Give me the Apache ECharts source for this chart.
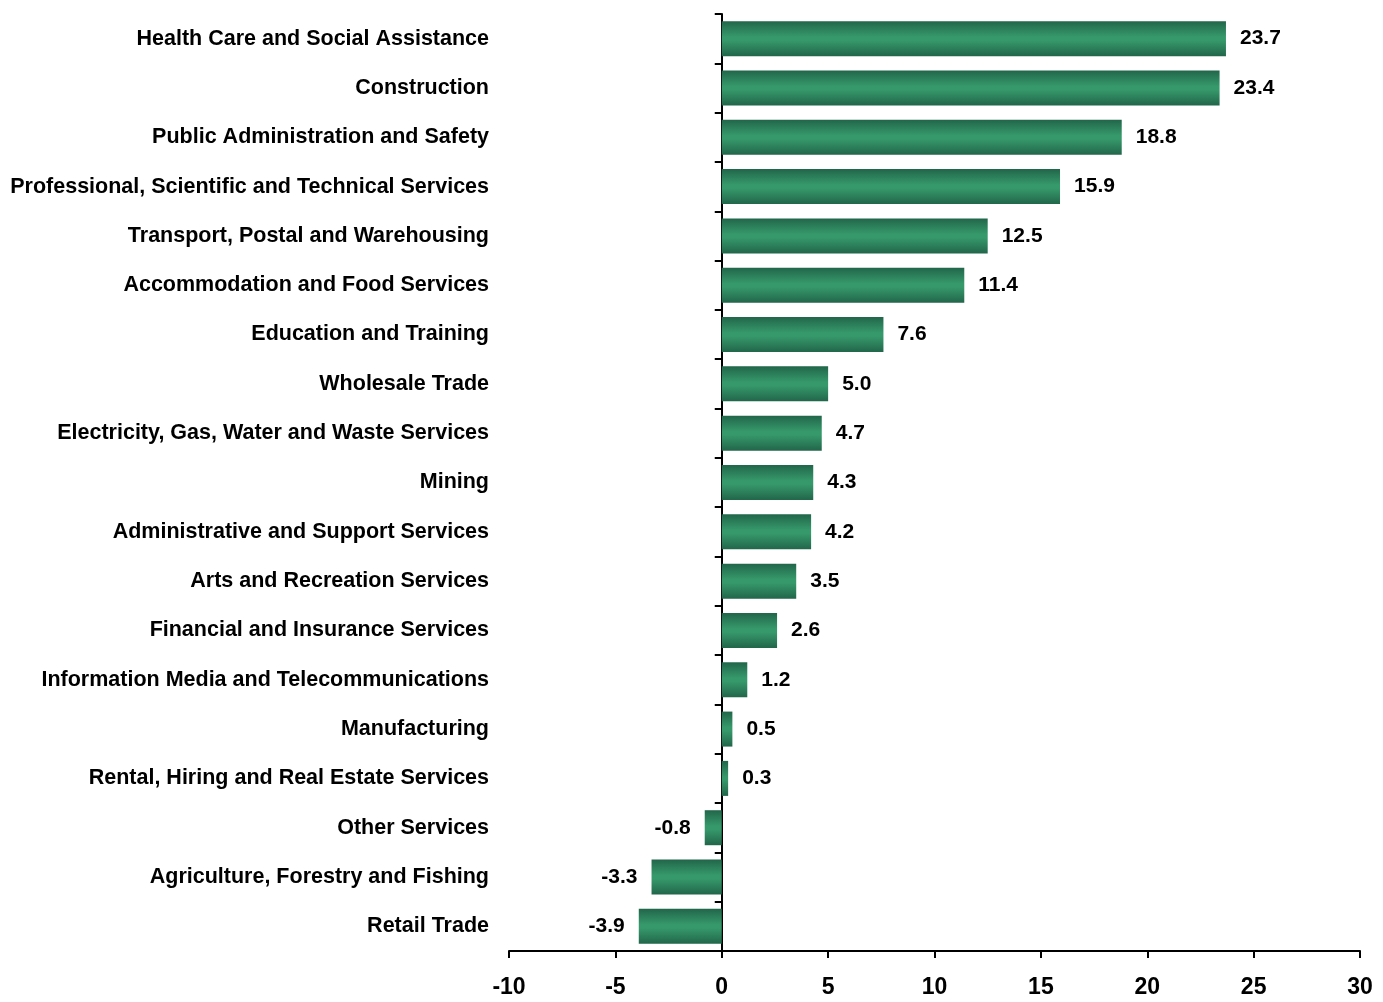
<!DOCTYPE html>
<html>
<head>
<meta charset="utf-8">
<title>Employment change by industry</title>
<script src="https://cdn.jsdelivr.net/npm/echarts@6/dist/echarts.min.js"></script>
<style>
  html, body { margin: 0; padding: 0; background: #ffffff; }
  #chart { width: 1383px; height: 1002px; }
</style>
</head>
<body>
<div id="chart"></div>
<script>
// Industries, listed top to bottom
const industries = [
  'Health Care and Social Assistance',
  'Construction',
  'Public Administration and Safety',
  'Professional, Scientific and Technical Services',
  'Transport, Postal and Warehousing',
  'Accommodation and Food Services',
  'Education and Training',
  'Wholesale Trade',
  'Electricity, Gas, Water and Waste Services',
  'Mining',
  'Administrative and Support Services',
  'Arts and Recreation Services',
  'Financial and Insurance Services',
  'Information Media and Telecommunications',
  'Manufacturing',
  'Rental, Hiring and Real Estate Services',
  'Other Services',
  'Agriculture, Forestry and Fishing',
  'Retail Trade'
];

// Change for each industry
const changes = [23.7, 23.4, 18.8, 15.9, 12.5, 11.4, 7.6, 5.0, 4.7, 4.3, 4.2, 3.5, 2.6, 1.2, 0.5, 0.3, -0.8, -3.3, -3.9];

// Value axis range and tick step
const axisMin = -10;
const axisMax = 30;
const axisStep = 5;

const FONT = '"Liberation Sans", Arial, Helvetica, sans-serif';

const barFill = new echarts.graphic.LinearGradient(0, 0, 0, 1, [
  { offset: 0, color: '#21664a' },
  { offset: 0.45, color: '#36996b' },
  { offset: 0.55, color: '#36996b' },
  { offset: 1, color: '#21664a' }
]);

const seriesData = changes.map(v => ({
  value: v,
  label: { position: v < 0 ? 'left' : 'right' }
}));

const chart = echarts.init(document.getElementById('chart'), null, { renderer: 'canvas' });

chart.setOption({
  animation: false,
  backgroundColor: '#ffffff',
  grid: {
    left: 509, right: 23, top: 14, bottom: 51,
    containLabel: false,
    outerBoundsMode: 'none'
  },
  xAxis: {
    type: 'value',
    min: axisMin,
    max: axisMax,
    interval: axisStep,
    splitLine: { show: false },
    axisLine: { show: true, lineStyle: { color: '#000', width: 2 } },
    axisTick: { show: true, length: 7, lineStyle: { color: '#000', width: 2 } },
    axisLabel: {
      color: '#000',
      fontFamily: FONT,
      fontWeight: 'bold',
      fontSize: 23,
      margin: 25
    }
  },
  yAxis: {
    type: 'category',
    data: industries,
    inverse: true,
    axisLine: { show: true, onZero: true, lineStyle: { color: '#000', width: 2 } },
    axisTick: { show: true, length: 7, alignWithLabel: false, lineStyle: { color: '#000', width: 2 } },
    splitLine: { show: false },
    axisLabel: {
      color: '#000',
      fontFamily: FONT,
      fontWeight: 'bold',
      fontSize: 21.5,
      margin: 20
    }
  },
  series: [{
    type: 'bar',
    data: seriesData,
    barWidth: 35,
    itemStyle: { color: barFill },
    label: {
      show: true,
      distance: 14,
      color: '#000',
      fontFamily: FONT,
      fontWeight: 'bold',
      fontSize: 21,
      formatter: p => p.value.toFixed(1)
    }
  }]
});
</script>
</body>
</html>
